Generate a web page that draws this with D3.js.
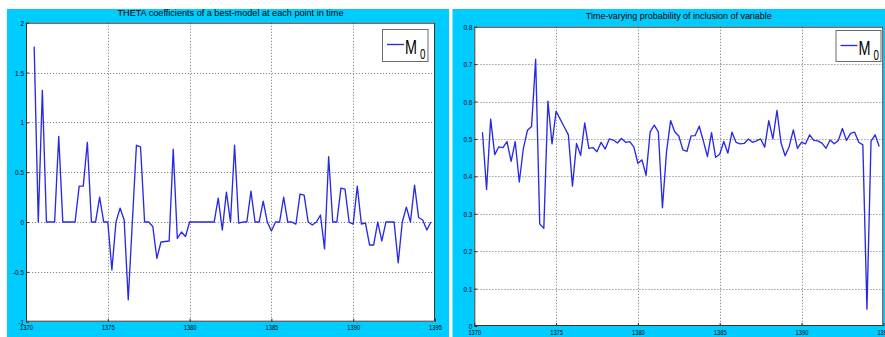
<!DOCTYPE html>
<html>
<head>
<meta charset="utf-8">
<script src="https://cdn.jsdelivr.net/npm/d3@7"></script>
<style>
  html, body { margin: 0; padding: 0; background: #fff; }
  svg { display: block; font-family: "Liberation Sans", Arial, Helvetica, sans-serif; }
</style>
</head>
<body>
<svg id="fig" width="885" height="337"></svg>
<script>
// Quarterly observations, first one at 1370.5
const startYear = 1370.5;
const stepYears = 0.25;

// THETA coefficient of the best model at each quarter
const thetaValues = [
  1.76, 0, 1.32, 0, 0, 0, 0.86, 0, 0, 0,
  0, 0.36, 0.36, 0.80, 0, 0, 0.25, 0, 0, -0.48,
  0, 0.14, 0.02, -0.78, 0, 0.77, 0.755, 0, 0, -0.045,
  -0.365, -0.2, -0.195, -0.19, 0.73, -0.165, -0.1, -0.145, 0, 0,
  0, 0, 0, 0, 0, 0.24, -0.08, 0.30, 0, 0.77,
  -0.01, 0, 0, 0.31, 0, 0, 0.21, 0, -0.09, 0,
  0, 0.25, 0, 0, -0.02, 0.28, 0.27, 0, -0.03, 0,
  0.07, -0.27, 0.655, 0, 0, 0.34, 0.33, 0, -0.02, 0.36,
  -0.02, -0.01, -0.23, -0.23, 0, -0.19, 0, 0, 0, -0.41,
  0, 0.15, 0, 0.37, 0.045, 0.02, -0.08, 0
];

// Time-varying probability of inclusion of the variable
const inclusionProb = [
  0.518, 0.365, 0.553, 0.458, 0.479, 0.477, 0.493, 0.44, 0.493, 0.385,
  0.475, 0.523, 0.533, 0.713, 0.273, 0.261, 0.601, 0.487, 0.574, 0.553,
  0.532, 0.511, 0.374, 0.488, 0.456, 0.543, 0.475, 0.477, 0.466, 0.491,
  0.473, 0.5, 0.497, 0.489, 0.501, 0.491, 0.493, 0.479, 0.435, 0.444,
  0.403, 0.519, 0.537, 0.519, 0.316, 0.466, 0.549, 0.519, 0.508, 0.471,
  0.467, 0.508, 0.509, 0.534, 0.495, 0.453, 0.517, 0.451, 0.459, 0.493,
  0.462, 0.518, 0.491, 0.487, 0.488, 0.5, 0.491, 0.495, 0.5, 0.478,
  0.549, 0.5, 0.576, 0.489, 0.455, 0.48, 0.524, 0.475, 0.491, 0.487,
  0.511, 0.496, 0.495, 0.489, 0.475, 0.497, 0.487, 0.496, 0.528, 0.496,
  0.515, 0.518, 0.491, 0.484, 0.045, 0.494, 0.511, 0.48
];

const yearTicks = [1370, 1375, 1380, 1385, 1390, 1395];
const thetaTicks = [-1, -0.5, 0, 0.5, 1, 1.5, 2];
const probTicks = [0, 0.1, 0.2, 0.3, 0.4, 0.5, 0.6, 0.7, 0.8];

const titleTheta = "THETA coefficients of a best-model at each point in time";
const titleProb = "Time-varying probability of inclusion of variable";
const legendName = "M";
const legendSub = "0";

const FRAME = "#00CCFF";
const LINE = "#2a2ae6";

const svg = d3.select("#fig");

// figure frames
svg.append("rect").attr("x", 0).attr("y", 0).attr("width", 885).attr("height", 337).attr("fill", "#fff");
svg.append("rect").attr("x", 7).attr("y", 9).attr("width", 442).attr("height", 328).attr("fill", FRAME);
svg.append("rect").attr("x", 452.5).attr("y", 9).attr("width", 433).attr("height", 328).attr("fill", FRAME);

// squeeze a text element horizontally
function squeeze(sel, f) {
  sel.each(function () {
    const w = this.getComputedTextLength();
    d3.select(this).attr("textLength", w * f).attr("lengthAdjust", "spacingAndGlyphs");
  });
}

function drawPanel(cfg) {
  const g = svg.append("g");
  const x = d3.scaleLinear().domain([1370, 1395]).range([cfg.x0, cfg.x1]);
  const y = d3.scaleLinear().domain(cfg.yDomain).range([cfg.y1, cfg.y0]);

  g.append("rect")
    .attr("x", cfg.x0).attr("y", cfg.y0)
    .attr("width", cfg.x1 - cfg.x0).attr("height", cfg.y1 - cfg.y0)
    .attr("fill", "#fff");

  // dotted grid
  const grid = g.append("g").attr("stroke", "#8a8a8a").attr("stroke-width", 1)
    .attr("stroke-dasharray", "1.2,1.8").attr("fill", "none");
  grid.selectAll("line.v").data(yearTicks.slice(1, -1)).join("line")
    .attr("x1", d => Math.round(x(d)) + 0.5).attr("x2", d => Math.round(x(d)) + 0.5)
    .attr("y1", cfg.y0).attr("y2", cfg.y1);
  grid.selectAll("line.h").data(cfg.ticks.slice(1, -1)).join("line")
    .attr("y1", d => Math.round(y(d)) + 0.5).attr("y2", d => Math.round(y(d)) + 0.5)
    .attr("x1", cfg.x0).attr("x2", cfg.x1);

  // series
  const series = cfg.values.map((v, i) => [startYear + i * stepYears, v]);
  g.append("path")
    .datum(series)
    .attr("fill", "none")
    .attr("stroke", LINE)
    .attr("stroke-width", 1.35)
    .attr("stroke-linejoin", "round")
    .attr("d", d3.line().x(d => x(d[0])).y(d => y(d[1])));

  // axes with inward ticks
  const ax = g.append("g").attr("transform", `translate(0,${cfg.y1})`)
    .call(d3.axisBottom(x).tickValues(yearTicks).tickSize(-3).tickPadding(cfg.xPad).tickFormat(d => String(d)));
  const ay = g.append("g").attr("transform", `translate(${cfg.x0},0)`)
    .call(d3.axisLeft(y).tickValues(cfg.ticks).tickSize(-3).tickPadding(2).tickFormat(d => String(d)));
  [ax, ay].forEach(a => {
    a.select(".domain").remove();
    a.selectAll(".tick line").attr("stroke", "#333");
    a.selectAll("text").attr("fill", "#000").attr("font-size", "8px")
      .attr("font-family", "Liberation Sans, Arial, sans-serif");
  });
  squeeze(ax.selectAll("text"), 0.72);
  squeeze(ay.selectAll("text"), 0.8);

  // axes box
  g.append("rect")
    .attr("x", cfg.x0 + 0.5).attr("y", cfg.y0 + 0.5)
    .attr("width", cfg.x1 - cfg.x0 - 1).attr("height", cfg.y1 - cfg.y0 - 1)
    .attr("fill", "none").attr("stroke", "#333").attr("stroke-width", 1);

  // title
  const t = g.append("text")
    .attr("x", (cfg.x0 + cfg.x1) / 2).attr("y", cfg.titleY)
    .attr("text-anchor", "middle").attr("font-size", "9.5px").attr("fill", "#000")
    .text(cfg.title);
  t.attr("textLength", cfg.titleWidth).attr("lengthAdjust", "spacingAndGlyphs");

  // legend
  const L = cfg.legend;
  g.append("rect").attr("x", L.x + 0.5).attr("y", L.y + 0.5).attr("width", L.w).attr("height", L.h)
    .attr("fill", "#fff").attr("stroke", "#6a6a6a").attr("stroke-width", 1);
  g.append("line").attr("x1", L.x + 5).attr("x2", L.x + 22).attr("y1", L.y + 15.5).attr("y2", L.y + 15.5)
    .attr("stroke", LINE).attr("stroke-width", 1.35);
  const m = g.append("text").attr("x", L.x + 23).attr("y", L.y + 24.5)
    .attr("font-size", "20px").attr("fill", "#000").text(legendName);
  squeeze(m, 0.72);
  const s = g.append("text").attr("x", L.x + 38).attr("y", L.y + 30)
    .attr("font-size", "14px").attr("fill", "#000").text(legendSub);
  squeeze(s, 0.7);
}

drawPanel({
  x0: 26, x1: 435, y0: 22.7, y1: 321.7,
  yDomain: [-1, 2], ticks: thetaTicks, values: thetaValues,
  title: titleTheta, titleY: 16, titleWidth: 226, xPad: 3,
  legend: { x: 382, y: 29, w: 45.5, h: 32 }
});

drawPanel({
  x0: 474.3, x1: 883.3, y0: 26.7, y1: 326,
  yDomain: [0, 0.8], ticks: probTicks, values: inclusionProb,
  title: titleProb, titleY: 19, titleWidth: 186, xPad: 3,
  legend: { x: 835.5, y: 30, w: 45, h: 31 }
});
</script>
</body>
</html>
